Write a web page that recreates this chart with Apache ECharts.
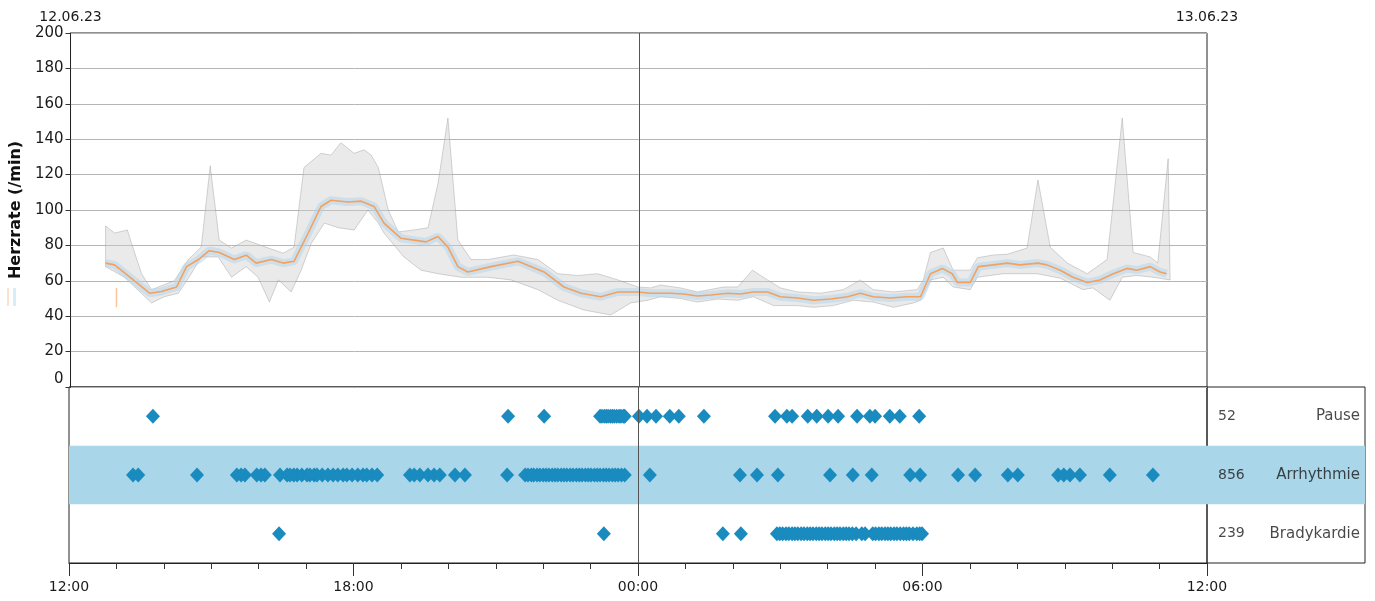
<!DOCTYPE html>
<html>
<head>
<meta charset="utf-8">
<script src="https://cdn.jsdelivr.net/npm/echarts@6/dist/echarts.min.js"></script>
<style>
html,body{margin:0;padding:0;background:#fff;}
#chart{width:1375px;height:601px;}
</style>
</head>
<body>
<div id="chart"></div>
<script>
// Time values are hours after 12:00 on 12.06.23
const dateLabels = ['12.06.23', '13.06.23'];
const timeLabels = ['12:00', '18:00', '00:00', '06:00', '12:00'];
const eventNames = ['Pause', 'Arrhythmie', 'Bradykardie'];
const eventCounts = [52, 856, 239];

const hrMean = [[0.74,70],[0.93,69],[1.35,60],[1.67,53],[1.92,54],[2.24,56.5],[2.45,68],[2.70,72],[2.93,77],[3.14,76],[3.46,72],[3.71,74.5],[3.92,70],[4.24,72],[4.49,70],[4.72,71],[5.02,87],[5.29,102],[5.50,105.5],[5.86,104.5],[6.14,105],[6.41,102],[6.62,92.6],[6.98,84],[7.25,83],[7.51,82],[7.76,85],[7.97,79],[8.18,68],[8.39,65],[8.88,68],[9.45,71],[10.00,65],[10.42,56.5],[10.78,53],[11.20,51],[11.56,53.7],[11.98,53.7],[12.25,53],[12.67,53],[12.95,52.5],[13.24,51.4],[13.52,52],[13.88,53],[14.15,52.5],[14.42,53.7],[14.72,53.7],[14.99,51],[15.35,50.3],[15.69,49],[16.05,49.7],[16.41,51],[16.68,53],[16.95,51],[17.31,50.3],[17.67,51],[17.95,51],[18.16,64],[18.41,67],[18.62,64],[18.73,59],[19.00,59],[19.17,68],[19.49,69],[19.78,70],[20.05,69],[20.43,70],[20.62,69],[20.90,66],[21.17,62],[21.47,59],[21.74,60.5],[22.02,64],[22.31,67],[22.52,66],[22.80,68],[23.01,65],[23.15,64]];

const hrMax = [[0.74,91],[0.93,87],[1.20,88.7],[1.29,81],[1.50,64],[1.71,55],[2.19,60],[2.49,72],[2.76,79],[2.95,125],[3.14,83],[3.40,78.5],[3.71,83],[4.18,78.5],[4.49,75.6],[4.72,79],[4.93,124],[5.29,132],[5.50,131],[5.71,138],[5.99,132],[6.20,134],[6.35,131],[6.50,124],[6.71,100],[6.92,87.6],[7.25,88.7],[7.55,90],[7.76,115],[7.97,152],[8.18,83],[8.46,72],[8.81,72],[9.36,74.6],[9.87,72],[10.29,64],[10.71,63],[11.13,64],[11.56,60.5],[11.98,56.5],[12.25,56],[12.46,57.6],[12.88,56],[13.24,53.7],[13.79,56.5],[14.09,56.5],[14.40,66],[14.72,60.5],[14.99,56],[15.35,53.7],[15.84,53],[16.32,55],[16.68,60.5],[16.95,55],[17.38,53.7],[17.88,55],[18.01,60.5],[18.16,76],[18.43,78.5],[18.64,66],[19.00,66],[19.15,73],[19.49,74.6],[19.78,75],[20.20,78.5],[20.43,117],[20.69,79],[21.05,70],[21.47,64],[21.89,72],[22.21,152],[22.44,76],[22.80,73.5],[22.96,70],[23.18,129],[23.22,62]];

const hrMin = [[0.74,68],[1.14,62],[1.71,47.5],[1.98,51],[2.28,53],[2.55,64],[2.76,73.5],[3.12,73.5],[3.40,62],[3.71,68],[3.96,62],[4.20,48],[4.39,60.5],[4.66,53.7],[4.87,66],[5.08,81],[5.36,92.6],[5.65,90],[5.99,88.7],[6.28,100],[6.50,92.6],[6.62,87],[7.04,73.5],[7.40,66],[7.76,64],[8.25,62],[8.81,62],[9.30,60.5],[9.87,55],[10.29,49],[10.84,43.5],[11.41,40.7],[11.83,47.5],[12.19,49],[12.46,51],[12.88,50],[13.24,48],[13.67,49.7],[14.09,49],[14.42,51],[14.85,46],[15.35,46],[15.69,45],[16.11,46],[16.53,49],[16.95,48],[17.38,45],[17.80,47.5],[17.95,49],[18.16,60.5],[18.43,62],[18.64,56.5],[19.00,55],[19.15,62],[19.70,64],[20.41,64],[20.90,61.5],[21.38,55],[21.59,56],[21.95,49],[22.21,62],[22.52,63],[22.86,62],[23.22,60.5]];

const hrStray = [[0.97,45],[0.97,56]];

const pauseTimes = [1.77,9.26,10.02,11.20,11.24,11.29,11.33,11.37,11.42,11.46,11.50,11.55,11.60,11.64,11.69,11.72,12.02,12.19,12.38,12.67,12.86,13.39,14.89,15.14,15.25,15.58,15.77,16.01,16.22,16.62,16.89,17.00,17.31,17.52,17.93];

const arrhythmieTimes = [1.35,1.46,2.70,3.54,3.63,3.71,3.96,4.05,4.13,4.45,4.60,4.66,4.74,4.81,4.91,5.02,5.08,5.17,5.23,5.34,5.46,5.57,5.67,5.78,5.86,5.97,6.09,6.20,6.28,6.39,6.50,7.19,7.28,7.40,7.57,7.70,7.82,8.14,8.35,9.24,9.62,9.68,9.75,9.80,9.87,9.93,10.00,10.06,10.12,10.19,10.25,10.31,10.38,10.44,10.50,10.57,10.63,10.70,10.76,10.82,10.89,10.95,11.01,11.08,11.14,11.20,11.27,11.33,11.39,11.46,11.52,11.58,11.65,11.72,12.25,14.15,14.51,14.95,16.05,16.53,16.93,17.74,17.95,18.75,19.11,19.80,20.01,20.86,20.98,21.11,21.32,21.95,22.86];

const bradykardieTimes = [4.43,11.28,13.79,14.17,14.93,14.99,15.05,15.12,15.18,15.25,15.31,15.37,15.44,15.50,15.57,15.63,15.69,15.76,15.82,15.88,15.95,16.01,16.07,16.14,16.20,16.26,16.33,16.39,16.45,16.52,16.60,16.72,16.79,16.95,17.01,17.08,17.14,17.21,17.27,17.33,17.40,17.46,17.53,17.60,17.66,17.72,17.80,17.88,17.94,17.99];

const FONT = 'DejaVu Sans';
const TXT = '#1a1a1a';
const DIAMOND = '#1a8bbf';
const BAND = '#a9d6e9';

const chart = echarts.init(document.getElementById('chart'), null, {renderer: 'canvas'});

const eventTimes = [pauseTimes, arrhythmieTimes, bradykardieTimes];

const eventSeries = eventNames.map((name, i) => ({
  type: 'scatter',
  name: name,
  xAxisIndex: 2,
  yAxisIndex: 1,
  symbol: 'diamond',
  symbolSize: [14, 15],
  itemStyle: {color: DIAMOND, opacity: 1},
  data: eventTimes[i].map(t => [t, name]),
  silent: true,
  z: 3
}));
eventSeries[0].markLine = {
  silent: true, symbol: 'none', animation: false,
  label: {show: false},
  lineStyle: {color: '#555', width: 1, type: 'solid'},
  data: [{xAxis: 12}]
};

const option = {
  animation: false,
  textStyle: {fontFamily: FONT},
  grid: [
    {left: 69, top: 33, width: 1138, height: 354, show: true, borderColor: '#222', borderWidth: 1, backgroundColor: 'transparent'},
    {left: 69, top: 387, width: 1138, height: 176, show: true, borderColor: '#222', borderWidth: 1, backgroundColor: 'transparent'},
    {left: 1207, top: 387, width: 158, height: 176, show: true, borderColor: '#222', borderWidth: 1, backgroundColor: 'transparent'}
  ],
  xAxis: [
    {type: 'value', gridIndex: 0, min: 0, max: 24, interval: 6, show: false},
    {type: 'value', gridIndex: 0, min: 0, max: 24, interval: 24, position: 'top',
     axisLine: {show: false}, axisTick: {show: false}, splitLine: {show: false},
     axisLabel: {show: true, margin: 9, color: TXT, fontSize: 14, fontFamily: FONT,
       formatter: v => dateLabels[Math.round(v / 24)]}},
    {type: 'value', gridIndex: 1, min: 0, max: 24, interval: 6,
     axisLine: {show: true, lineStyle: {color: '#222'}},
     axisTick: {show: true, length: 13, lineStyle: {color: '#333'}},
     minorTick: {show: true, splitNumber: 6, length: 6, lineStyle: {color: '#333'}},
     splitLine: {show: false},
     axisLabel: {margin: 17, color: TXT, fontSize: 14, fontFamily: FONT,
       formatter: v => timeLabels[Math.round(v / 6)]}},
    {type: 'value', gridIndex: 2, min: 0, max: 1, show: false}
  ],
  yAxis: [
    {type: 'value', gridIndex: 0, min: 0, max: 200, interval: 20,
     name: 'Herzrate (/min)', nameLocation: 'middle', nameGap: 44,
     nameTextStyle: {fontWeight: 'bold', fontSize: 16, color: '#111', fontFamily: FONT},
     axisLine: {show: true, lineStyle: {color: '#222'}},
     axisTick: {show: true, length: 5, lineStyle: {color: '#333'}},
     splitLine: {show: true, lineStyle: {color: '#b5b5b5', width: 1}},
     axisLabel: {margin: 7, color: TXT, fontSize: 15, fontFamily: FONT,
       formatter: v => v === 0 ? '{z|0}' : String(v),
       rich: {z: {fontSize: 15, color: TXT, fontFamily: FONT, padding: [0, 0, 15, 0]}}}},
    {type: 'category', gridIndex: 1, data: eventNames, inverse: true,
     axisLine: {show: false}, axisTick: {show: false}, axisLabel: {show: false},
     splitLine: {show: false},
     splitArea: {show: true, areaStyle: {color: ['rgba(0,0,0,0)', BAND, 'rgba(0,0,0,0)']}}},
    {type: 'category', gridIndex: 2, data: eventNames, inverse: true,
     axisLine: {show: false}, axisTick: {show: false}, axisLabel: {show: false},
     splitLine: {show: false},
     splitArea: {show: true, areaStyle: {color: ['rgba(0,0,0,0)', BAND, 'rgba(0,0,0,0)']}}}
  ],
  graphic: [
    {type: 'rect', shape: {x: 7, y: 288, width: 2, height: 18}, style: {fill: 'rgba(245,170,110,0.35)'}, silent: true},
    {type: 'rect', shape: {x: 13, y: 288, width: 3, height: 18}, style: {fill: 'rgba(150,200,230,0.35)'}, silent: true}
  ],
  series: [
    {
      type: 'custom',
      xAxisIndex: 0, yAxisIndex: 0,
      silent: true, z: 1,
      data: [[0, 0]],
      renderItem: function (params, api) {
        const pts = [];
        hrMax.forEach(p => pts.push(api.coord(p)));
        for (let i = hrMin.length - 1; i >= 0; i--) pts.push(api.coord(hrMin[i]));
        return {
          type: 'polygon',
          shape: {points: pts},
          style: {fill: 'rgba(205,205,205,0.42)', stroke: 'rgba(150,150,150,0.5)', lineWidth: 0.8}
        };
      }
    },
    {
      type: 'line', xAxisIndex: 0, yAxisIndex: 0, silent: true, z: 2,
      data: hrMean, symbol: 'none',
      lineStyle: {color: 'rgba(175,212,236,0.5)', width: 8}
    },
    {
      type: 'line', xAxisIndex: 0, yAxisIndex: 0, silent: true, z: 3,
      data: hrStray, symbol: 'none',
      lineStyle: {color: 'rgba(245,160,90,0.6)', width: 1.5}
    },
    {
      type: 'line', xAxisIndex: 0, yAxisIndex: 0, silent: true, z: 4,
      data: hrMean, symbol: 'none',
      lineStyle: {color: '#f5a05c', width: 1.6},
      markLine: {
        silent: true, symbol: 'none', animation: false,
        label: {show: false},
        lineStyle: {color: '#555', width: 1, type: 'solid'},
        data: [{xAxis: 12}]
      }
    },
    ...eventSeries,
    {
      type: 'scatter', xAxisIndex: 3, yAxisIndex: 2, silent: true,
      symbolSize: 0,
      data: eventNames.map((n, i) => [0, n, eventCounts[i]]),
      label: {show: true, position: 'right', distance: 11, color: TXT, fontSize: 14, fontFamily: FONT,
        formatter: p => String(p.value[2])}
    },
    {
      type: 'scatter', xAxisIndex: 3, yAxisIndex: 2, silent: true,
      symbolSize: 0,
      data: eventNames.map(n => [1, n]),
      label: {show: true, position: 'left', distance: 5, color: TXT, fontSize: 15, fontFamily: FONT,
        formatter: p => p.value[1]}
    }
  ]
};

chart.setOption(option);
</script>
</body>
</html>
